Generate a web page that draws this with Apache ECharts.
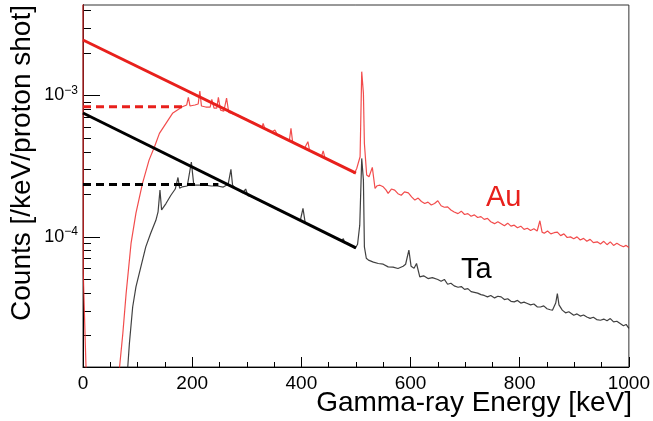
<!DOCTYPE html>
<html><head><meta charset="utf-8">
<script src="https://cdn.jsdelivr.net/npm/echarts@6/dist/echarts.min.js"></script>
<style>html,body{margin:0;padding:0;background:#fff}#c{width:653px;height:421px}</style>
</head><body><div id="c"></div>
<script>
// ---- data (energy in keV, counts per keV per proton shot) ----
const auE = [0,0.5,5.5,7,64,67,73,79,88,97,109,121,131,140,152,164,173,182,190,193,196,205,211,214,217,225,233,236,240,245,248,252,258,263,267,275,285,292,300,306,312,318,323,328,330,333,340,346,351.5,356,362,368,374,378,381,384,390,396,402,406,409,412,415,421,427,432,437,440,443,449,455,461,467,473,479,485,491,497,501.5,507.6,510.6,513.7,515.5,519.7,524,530,535,539,544,550,555,559,565,571,577,583,589,596,602,608,614,620,626,632,638,644,650,656,662,668,674,680,687,693,699,705,711,717,723,729,735,741,747,754,760,766,772,778,784,790,796,802,808,814,820,826,832,837,841,845,851,857,863,869,875,881,887,893,899,905,911,917,923,929,935,942,948,954,960,966,972,978,984,990,995,1000];
const auC = [6.0e-3,5.5e-5,1.2e-5,5e-6,5e-6,1.2e-5,2.08e-5,3.97e-5,8.98e-5,1.47e-4,2.39e-4,3.49e-4,4.34e-4,5.40e-4,6.35e-4,7.48e-4,7.89e-4,8.33e-4,8.57e-4,9.71e-4,8.43e-4,8.57e-4,8.71e-4,1.076e-3,8.43e-4,8.29e-4,8.29e-4,9.40e-4,8.15e-4,8.15e-4,9.71e-4,7.89e-4,7.76e-4,9.6e-4,7.6e-4,7.40e-4,7.25e-4,6.95e-4,6.80e-4,6.55e-4,6.45e-4,6.25e-4,6.1e-4,5.95e-4,6.35e-4,5.85e-4,5.60e-4,5.55e-4,5.70e-4,5.30e-4,5.20e-4,5.00e-4,4.90e-4,4.80e-4,5.86e-4,4.70e-4,4.55e-4,4.45e-4,4.35e-4,4.25e-4,4.20e-4,4.71e-4,4.10e-4,4.00e-4,3.90e-4,3.80e-4,3.72e-4,4.06e-4,3.65e-4,3.52e-4,3.45e-4,3.35e-4,3.28e-4,3.18e-4,3.10e-4,3.02e-4,2.93e-4,2.81e-4,3.05e-4,3.69e-4,1.475e-3,1.036e-3,4.58e-4,2.74e-4,2.66e-4,3.10e-4,2.20e-4,2.30e-4,2.32e-4,2.26e-4,2.15e-4,2.03e-4,2.18e-4,2.14e-4,2.02e-4,1.97e-4,2.08e-4,2.05e-4,1.92e-4,1.82e-4,1.88e-4,1.78e-4,1.72e-4,1.76e-4,1.68e-4,1.72e-4,1.80e-4,1.66e-4,1.62e-4,1.63e-4,1.55e-4,1.50e-4,1.46e-4,1.52e-4,1.44e-4,1.46e-4,1.40e-4,1.43e-4,1.37e-4,1.39e-4,1.33e-4,1.35e-4,1.28e-4,1.24e-4,1.28e-4,1.24e-4,1.20e-4,1.25e-4,1.19e-4,1.21e-4,1.16e-4,1.19e-4,1.13e-4,1.15e-4,1.11e-4,1.14e-4,1.10e-4,1.30e-4,1.08e-4,1.06e-4,1.10e-4,1.05e-4,1.07e-4,1.08e-4,1.02e-4,1.05e-4,0.99e-4,1.00e-4,0.97e-4,1.00e-4,0.95e-4,0.975e-4,0.93e-4,0.96e-4,0.91e-4,0.922e-4,0.89e-4,0.93e-4,0.88e-4,0.922e-4,0.87e-4,0.90e-4,0.873e-4,0.85e-4,0.87e-4,0.841e-4];

const taE = [80,82,85,91,97,106,115,124,133.5,137.5,141,144,152,161,169,174,177,182,191,198.5,203,213,224,235,246,257,266,271,274,280,286,292,298,302,308,314,320,326,332,338,344,350,356,362,368,374,380,386,392,398,403,407,413,419,425,431,437,443,449,455,461,467,473,477,479,485,491,498.5,503,507,510.6,513.7,515.5,519,523,532,541,550,559,568,577,586.5,591,597,601,606.5,611,617,624,632,640,650,656,662,668,674,680,687,693,699,705,711,717,723,729,735,741,747,754,760,766,772,778,784,790,796,802,808,814,820,826,832,838,844,850,856,860,866,869,872,878,884,890,899,905,911,917,923,929,935,941,948,954,960,966,972,978,984,990,995,1000];
const taC = [5e-6,1.2e-5,1.76e-5,3.19e-5,4.43e-5,6.14e-5,8.49e-5,1.06e-4,1.31e-4,1.50e-4,2.14e-4,1.55e-4,1.72e-4,1.97e-4,2.18e-4,2.63e-4,2.21e-4,2.26e-4,2.29e-4,3.38e-4,2.32e-4,2.32e-4,2.32e-4,2.29e-4,2.29e-4,2.25e-4,2.36e-4,3.00e-4,2.32e-4,2.19e-4,2.14e-4,2.05e-4,2.18e-4,1.96e-4,1.93e-4,1.88e-4,1.84e-4,1.78e-4,1.75e-4,1.70e-4,1.64e-4,1.62e-4,1.56e-4,1.53e-4,1.48e-4,1.45e-4,1.41e-4,1.38e-4,1.34e-4,1.30e-4,1.59e-4,1.26e-4,1.22e-4,1.19e-4,1.16e-4,1.13e-4,1.10e-4,1.07e-4,1.04e-4,1.02e-4,0.99e-4,0.96e-4,0.94e-4,0.97e-4,0.91e-4,0.90e-4,0.87e-4,0.828e-4,0.887e-4,1.21e-4,3.59e-4,2.52e-4,0.849e-4,0.706e-4,0.684e-4,0.662e-4,0.648e-4,0.641e-4,0.613e-4,0.610e-4,0.597e-4,0.620e-4,0.64e-4,0.805e-4,0.620e-4,0.600e-4,0.648e-4,0.521e-4,0.53e-4,0.507e-4,0.515e-4,0.499e-4,0.485e-4,0.50e-4,0.462e-4,0.47e-4,0.45e-4,0.44e-4,0.445e-4,0.425e-4,0.43e-4,0.41e-4,0.405e-4,0.40e-4,0.39e-4,0.385e-4,0.376e-4,0.385e-4,0.37e-4,0.38e-4,0.376e-4,0.36e-4,0.365e-4,0.35e-4,0.347e-4,0.355e-4,0.34e-4,0.345e-4,0.338e-4,0.33e-4,0.335e-4,0.32e-4,0.319e-4,0.325e-4,0.31e-4,0.305e-4,0.303e-4,0.34e-4,0.397e-4,0.33e-4,0.303e-4,0.29e-4,0.295e-4,0.279e-4,0.285e-4,0.275e-4,0.28e-4,0.271e-4,0.265e-4,0.27e-4,0.26e-4,0.257e-4,0.262e-4,0.255e-4,0.264e-4,0.25e-4,0.253e-4,0.244e-4,0.235e-4,0.24e-4,0.225e-4];

const auFitE = [0, 500];
const auFitC = [2.47e-3, 2.82e-4];
const taFitE = [0, 500];
const taFitC = [7.52e-4, 8.35e-5];
const auFlatE = [0, 190];
const auFlatC = [8.33e-4, 8.33e-4];
const taFlatE = [0, 248];
const taFlatC = [2.35e-4, 2.35e-4];

const xTicks = [0, 200, 400, 600, 800, 1000];
const yMin = 1.2e-5, yMax = 4.37e-3;
const yMajor = [1e-4, 1e-3];
// -------------------------------------------------------------

const L = Math.log10;
const pairs = (e, c) => e.map((x, i) => [x, L(c[i])]);
const minorVals = [];
for (let p = -6; p <= -2; p++) for (let k = 1; k <= 9; k++) {
  const v = k * Math.pow(10, p);
  if (v >= yMin && v <= yMax && k !== 1) minorVals.push(L(v));
}
const majorVals = yMajor.map(L);
const sup = n => String(n).replace('-', '\u2212');

const chart = echarts.init(document.getElementById('c'), null, {renderer: 'canvas'});
const FONT = 'Liberation Sans, Arial, Helvetica, sans-serif';
const yCommon = {
  type: 'value', min: L(yMin), max: L(yMax), position: 'left',
  axisLine: {show: true, lineStyle: {color: '#000', width: 1}},
  splitLine: {show: false}
};
chart.setOption({
  animation: false,
  grid: {left: 83, right: 21, top: 5, bottom: 54, show: true, borderColor: '#333', borderWidth: 1, backgroundColor: 'transparent'},
  xAxis: {
    type: 'value', min: 0, max: 1000, interval: 200,
    axisLine: {lineStyle: {color: '#000', width: 1}},
    axisTick: {inside: true, length: 10, lineStyle: {color: '#000'}},
    minorTick: {show: true, splitNumber: 4, length: 5, lineStyle: {color: '#000'}},
    splitLine: {show: false},
    axisLabel: {color: '#000', fontSize: 19, fontFamily: FONT, margin: 7,
      customValues: xTicks, formatter: v => String(v)}
  },
  yAxis: [
    Object.assign({}, yCommon, {
      axisTick: {show: true, inside: true, length: 17, customValues: majorVals, lineStyle: {color: '#000'}},
      axisLabel: {show: true, customValues: majorVals, margin: 5, color: '#000', fontFamily: FONT,
        formatter: v => '{b|10}{s|' + sup(Math.round(v)) + '}',
        rich: {b: {fontSize: 18, fontFamily: FONT, color: '#000'},
               s: {fontSize: 12, fontFamily: FONT, color: '#000', verticalAlign: 'top', padding: [0, 0, 10, 0]}}}
    }),
    Object.assign({}, yCommon, {
      axisTick: {show: true, inside: true, length: 8, customValues: minorVals, lineStyle: {color: '#000'}},
      axisLabel: {show: false}
    })
  ],
  series: [
    {type: 'line', name: 'Au', data: pairs(auE, auC), showSymbol: false, symbol: 'none',
      lineStyle: {color: 'rgba(240,45,45,0.85)', width: 1.2}, z: 2},
    {type: 'line', name: 'Ta', data: pairs(taE, taC), showSymbol: false, symbol: 'none',
      lineStyle: {color: 'rgba(30,30,30,0.85)', width: 1.2}, z: 2},
    {type: 'line', name: 'Au fit', data: pairs(auFitE, auFitC), symbol: 'none',
      lineStyle: {color: '#e8201c', width: 3}, z: 3},
    {type: 'line', name: 'Ta fit', data: pairs(taFitE, taFitC), symbol: 'none',
      lineStyle: {color: '#000', width: 3}, z: 3},
    {type: 'line', name: 'Au flat', data: pairs(auFlatE, auFlatC), symbol: 'none',
      lineStyle: {color: '#e8201c', width: 3, type: [8, 5]}, z: 3},
    {type: 'line', name: 'Ta flat', data: pairs(taFlatE, taFlatC), symbol: 'none',
      lineStyle: {color: '#000', width: 3, type: [8, 5]}, z: 3}
  ],
  graphic: [
    {type: 'text', left: 486, top: 183, style: {text: 'Au', fill: '#e8201c', font: '29px ' + FONT}},
    {type: 'text', left: 461, top: 255, style: {text: 'Ta', fill: '#000', font: '29px ' + FONT}},
    {type: 'text', right: 21, top: 389, style: {text: 'Gamma-ray Energy [keV]', fill: '#000', font: '28px ' + FONT}},
    {type: 'text', x: 8, y: 5, rotation: Math.PI / 2, style: {text: 'Counts [/keV/proton shot]', fill: '#000', font: '28px ' + FONT, align: 'right', verticalAlign: 'top'}}
  ]
});
</script></body></html>
